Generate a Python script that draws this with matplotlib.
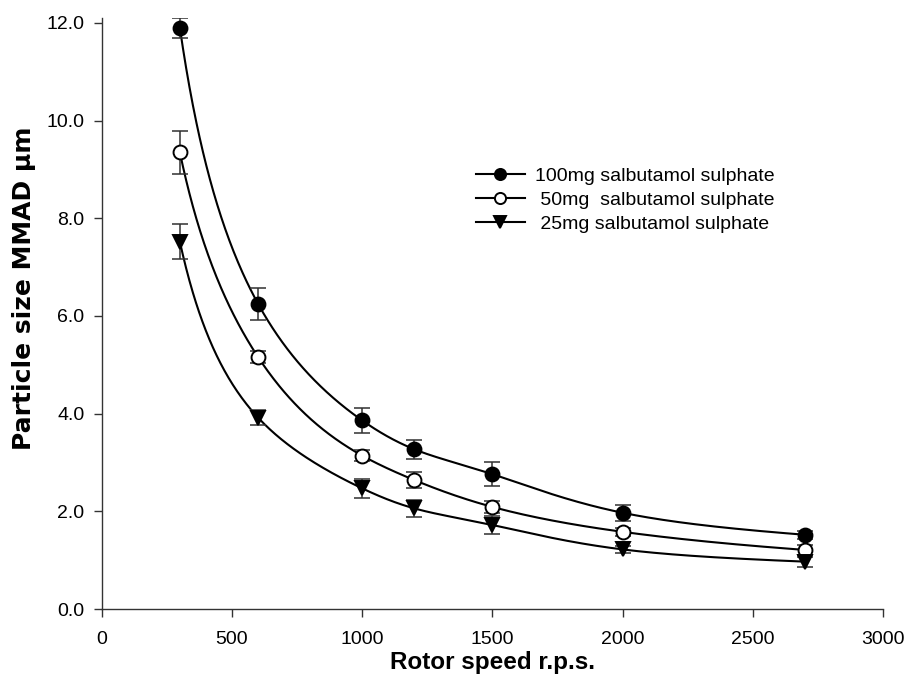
import numpy as np
import matplotlib.pyplot as plt

rotor_speed = [300, 600, 1000, 1200, 1500, 2000, 2700]

mmad_100mg = [11.90, 6.25, 3.86, 3.27, 2.76, 1.97, 1.52]
err_100mg = [0.20, 0.33, 0.25, 0.20, 0.25, 0.16, 0.08]

mmad_50mg = [9.35, 5.16, 3.14, 2.64, 2.09, 1.58, 1.21]
err_50mg = [0.44, 0.12, 0.11, 0.16, 0.13, 0.08, 0.10]

mmad_25mg = [7.52, 3.92, 2.47, 2.06, 1.72, 1.22, 0.97]
err_25mg = [0.36, 0.16, 0.20, 0.17, 0.19, 0.08, 0.10]

labels = ["100mg salbutamol sulphate",
          " 50mg  salbutamol sulphate",
          " 25mg salbutamol sulphate"]

x_ticks = [0, 500, 1000, 1500, 2000, 2500, 3000]
y_ticks = [0, 2, 4, 6, 8, 10, 12]


def spline_curve(x, y, n=400):
    # natural cubic spline through the points, done in log-log space
    lx = np.log(np.asarray(x, float))
    ly = np.log(np.asarray(y, float))
    k = len(lx)
    h = np.diff(lx)
    A = np.zeros((k, k))
    b = np.zeros(k)
    A[0, 0] = A[-1, -1] = 1
    for i in range(1, k - 1):
        A[i, i - 1] = h[i - 1]
        A[i, i] = 2 * (h[i - 1] + h[i])
        A[i, i + 1] = h[i]
        b[i] = 6 * ((ly[i + 1] - ly[i]) / h[i] - (ly[i] - ly[i - 1]) / h[i - 1])
    M = np.linalg.solve(A, b)
    xs = np.linspace(lx[0], lx[-1], n)
    idx = np.clip(np.searchsorted(lx, xs) - 1, 0, k - 2)
    x0, x1 = lx[idx], lx[idx + 1]
    hh = x1 - x0
    t0 = x1 - xs
    t1 = xs - x0
    ys = (M[idx] * t0 ** 3 + M[idx + 1] * t1 ** 3) / (6 * hh) \
        + (ly[idx] / hh - M[idx] * hh / 6) * t0 \
        + (ly[idx + 1] / hh - M[idx + 1] * hh / 6) * t1
    return np.exp(xs), np.exp(ys)


def main():
    plt.rcParams["font.family"] = ["Liberation Sans", "DejaVu Sans"]

    fig = plt.figure(figsize=(9.08, 6.86), dpi=100)
    ax = fig.add_axes([0.112, 0.1122, 0.8608, 0.8616])

    series = [
        (mmad_100mg, err_100mg, "o", "black"),
        (mmad_50mg, err_50mg, "o", "white"),
        (mmad_25mg, err_25mg, "v", "black"),
    ]

    handles = []
    for (vals, errs, mk, face), lab in zip(series, labels):
        xs, ys = spline_curve(rotor_speed, vals)
        ax.plot(xs, ys, color="black", lw=1.5, zorder=2)
        ax.errorbar(rotor_speed, vals, yerr=errs, fmt="none", ecolor="#303030",
                    elinewidth=1.1, capsize=5.5, capthick=1.1, zorder=3)
        ax.plot(rotor_speed, vals, linestyle="none", marker=mk, markersize=10,
                markerfacecolor=face, markeredgecolor="black", markeredgewidth=1.4,
                zorder=4)
        h, = ax.plot([], [], color="black", lw=1.5, marker=mk, markersize=10,
                     markerfacecolor=face, markeredgecolor="black",
                     markeredgewidth=1.4)
        handles.append(h)

    ax.set_xlim(0, 3000)
    ax.set_ylim(0, 12.1)
    ax.set_xticks(x_ticks)
    ax.set_yticks(y_ticks)
    ax.set_yticklabels(["%.1f" % v for v in y_ticks])

    for side in ["top", "right"]:
        ax.spines[side].set_visible(False)
    for side in ["left", "bottom"]:
        ax.spines[side].set_color("#333333")
        ax.spines[side].set_linewidth(1.0)
    ax.tick_params(axis="both", direction="out", length=5.5, width=1.0,
                   color="#333333", labelsize=14)
    ax.tick_params(axis="x", pad=10.5)
    ax.tick_params(axis="y", pad=7)

    ax.legend(handles, labels, loc="upper left",
              bbox_to_anchor=(476 / 908, 1 - 167 / 686),
              bbox_transform=fig.transFigure, frameon=False, fontsize=14,
              markerscale=0.8, handlelength=2.5, handletextpad=0.55,
              labelspacing=0.33, borderpad=0, borderaxespad=0)

    fig.text(492 / 908, 1 - 663 / 686, "Rotor speed r.p.s.", ha="center",
             va="center", fontsize=17.5, fontweight="bold")
    fig.text(24 / 908, 1 - 288 / 686, "Particle size MMAD \u03bcm", ha="center",
             va="center", rotation=90, fontsize=18, fontweight="bold",
             family="DejaVu Sans")

    fig.savefig("out.png", dpi=100)


if __name__ == "__main__":
    main()
